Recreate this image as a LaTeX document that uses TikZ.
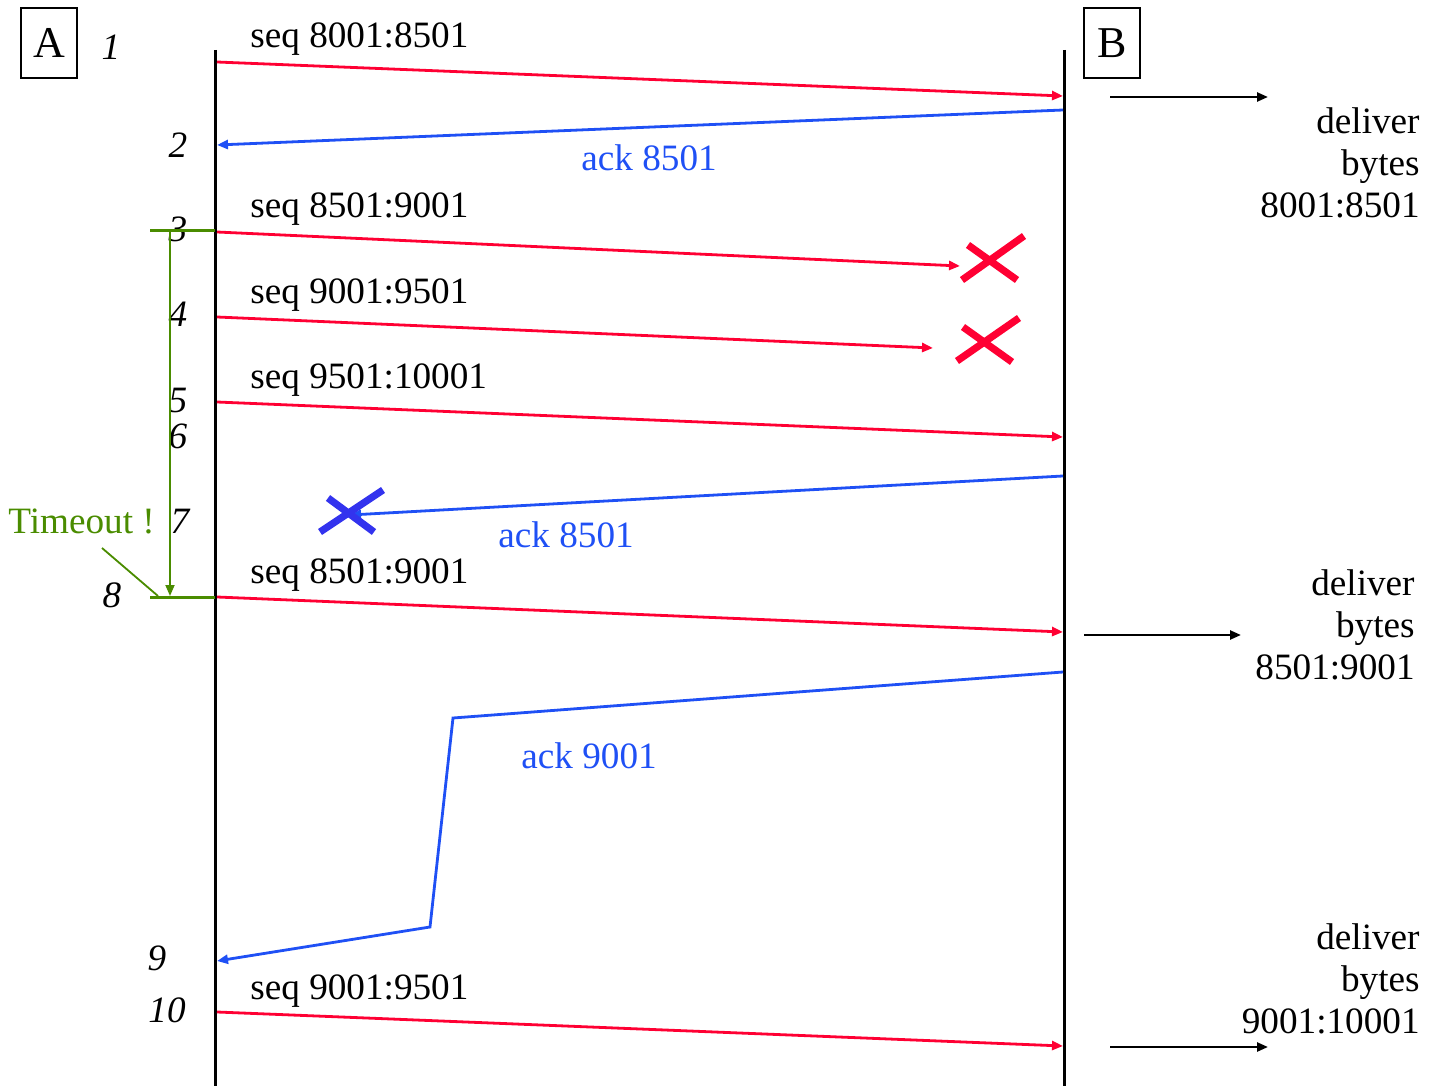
\documentclass[tikz,border=0pt]{standalone}
\usepackage{fontspec}
\setmainfont{Liberation Serif}
\usetikzlibrary{arrows.meta}
\definecolor{myred}{HTML}{FF0033}
\definecolor{myblue}{HTML}{1F50F5}
\definecolor{xblue}{HTML}{3333EE}
\definecolor{mygreen}{HTML}{4A8C00}
\begin{document}
\begin{tikzpicture}[x=0.5pt,y=-0.5pt,
  lbl/.style={font=\fontsize{18.6}{21}\selectfont, inner sep=0pt},
  num/.style={font=\fontsize{18.6}{21}\selectfont\itshape, inner sep=0pt, anchor=base},
  life/.style={line width=1.5pt},
  tip/.style={-{Triangle[length=5.5pt,width=4.5pt]}},
  segarr/.style={myred, line width=1.4pt, tip},
  ackarr/.style={myblue, line width=1.4pt, tip},
  delarr/.style={black, line width=1.2pt, tip},
  crossmark/.style={line width=3.6pt},
  hostbox/.style={draw, line width=0.8pt, minimum width=28pt, minimum height=35pt, inner sep=0pt, font=\fontsize{22}{24}\selectfont},
  deliv/.style={lbl, align=right, anchor=base east, font=\fontsize{18.6}{21}\selectfont}
]
\useasboundingbox (0,0) rectangle (1437,1086);
% hosts
\node[hostbox] (A) at (49,43) {A};
\node[hostbox] (B) at (1112,43) {B};
\coordinate (Atop) at (215,50); \coordinate (Abot) at (215,1086);
\coordinate (Btop) at (1064,50); \coordinate (Bbot) at (1064,1086);
\draw[life] (Atop) -- (Abot);
\draw[life] (Btop) -- (Bbot);
% step numbers
\node[num] (n1) at (111,60) {1};
\node[num] (n2) at (178,158) {2};
\node[num] (n3) at (178,242) {3};
\node[num] (n4) at (178,327) {4};
\node[num] (n5) at (178,412) {5};
\node[num] (n6) at (178,448) {6};
\node[num] (n7) at (180,533) {7};
\node[num] (n8) at (112,607) {8};
\node[num] (n9) at (157,970) {9};
\node[num] (n10) at (167,1022) {10};
% message 1
\coordinate (s1a) at (217,62); \coordinate (s1b) at (1063,96);
\draw[segarr] (s1a) -- (s1b);
\node[lbl, anchor=base west] (l1) at (250,48) {seq 8001:8501};
% ack 1
\coordinate (a1a) at (1063,110); \coordinate (a1b) at (217,145);
\draw[ackarr] (a1a) -- (a1b);
\node[lbl, anchor=base west, text=myblue] (la1) at (581,170) {ack 8501};
% message 3 (lost)
\coordinate (s3a) at (217,232); \coordinate (s3b) at (960,266);
\draw[segarr] (s3a) -- (s3b);
\node[lbl, anchor=base west] (l3) at (250,218) {seq 8501:9001};
\coordinate (x1a) at (962,280); \coordinate (x1b) at (1024,236);
\coordinate (x1c) at (968,245); \coordinate (x1d) at (1017,280);
\draw[crossmark, myred] (x1a) -- (x1b) (x1c) -- (x1d);
% message 4 (lost)
\coordinate (s4a) at (217,317); \coordinate (s4b) at (933,348);
\draw[segarr] (s4a) -- (s4b);
\node[lbl, anchor=base west] (l4) at (250,303) {seq 9001:9501};
\coordinate (x2a) at (957,361); \coordinate (x2b) at (1019,318);
\coordinate (x2c) at (963,327); \coordinate (x2d) at (1012,362);
\draw[crossmark, myred] (x2a) -- (x2b) (x2c) -- (x2d);
% message 5
\coordinate (s5a) at (217,402); \coordinate (s5b) at (1063,437);
\draw[segarr] (s5a) -- (s5b);
\node[lbl, anchor=base west] (l5) at (250,388) {seq 9501:10001};
% ack lost
\coordinate (a2a) at (1063,476); \coordinate (a2b) at (350,515);
\draw[ackarr] (a2a) -- (a2b);
\node[lbl, anchor=base west, text=myblue] (la2) at (498,547) {ack 8501};
\coordinate (x3a) at (320,532); \coordinate (x3b) at (383,490);
\coordinate (x3c) at (328,498); \coordinate (x3d) at (374,532);
\draw[crossmark, xblue] (x3a) -- (x3b) (x3c) -- (x3d);
% retransmission
\coordinate (s8a) at (217,597); \coordinate (s8b) at (1063,632);
\draw[segarr] (s8a) -- (s8b);
\node[lbl, anchor=base west] (l8) at (250,583) {seq 8501:9001};
% ack 9001
\coordinate (a3a) at (1063,672); \coordinate (a3k1) at (453,718);
\coordinate (a3k2) at (430,927); \coordinate (a3b) at (217,961);
\draw[ackarr] (a3a) -- (a3k1) -- (a3k2) -- (a3b);
\node[lbl, anchor=base west, text=myblue] (la3) at (521,768) {ack 9001};
% message 10
\coordinate (s10a) at (217,1012); \coordinate (s10b) at (1063,1046);
\draw[segarr] (s10a) -- (s10b);
\node[lbl, anchor=base west] (l10) at (250,999) {seq 9001:9501};
% deliveries
\coordinate (d1a) at (1110,97); \coordinate (d1b) at (1268,97);
\draw[delarr] (d1a) -- (d1b);
\node[deliv] (dt1) at (1420,218) {deliver\\bytes\\8001:8501};
\coordinate (d2a) at (1084,635); \coordinate (d2b) at (1241,635);
\draw[delarr] (d2a) -- (d2b);
\node[deliv] (dt2) at (1415,679) {deliver\\bytes\\8501:9001};
\coordinate (d3a) at (1110,1047); \coordinate (d3b) at (1268,1047);
\draw[delarr] (d3a) -- (d3b);
\node[deliv] (dt3) at (1420,1033) {deliver\\bytes\\9001:10001};
% timeout
\coordinate (g1a) at (150,231); \coordinate (g1b) at (215,231);
\coordinate (g2a) at (150,597); \coordinate (g2b) at (215,597);
\draw[mygreen, line width=1.5pt] (g1a) -- (g1b) (g2a) -- (g2b);
\coordinate (gv1) at (170,231); \coordinate (gv2) at (170,596);
\draw[mygreen, line width=0.9pt, tip] (gv1) -- (gv2);
\node[lbl, anchor=base west, text=mygreen] (tout) at (8,533) {Timeout !};
\coordinate (tp1) at (102,548); \coordinate (tp2) at (158,596);
\draw[mygreen, line width=0.9pt] (tp1) -- (tp2);
\end{tikzpicture}
\end{document}
